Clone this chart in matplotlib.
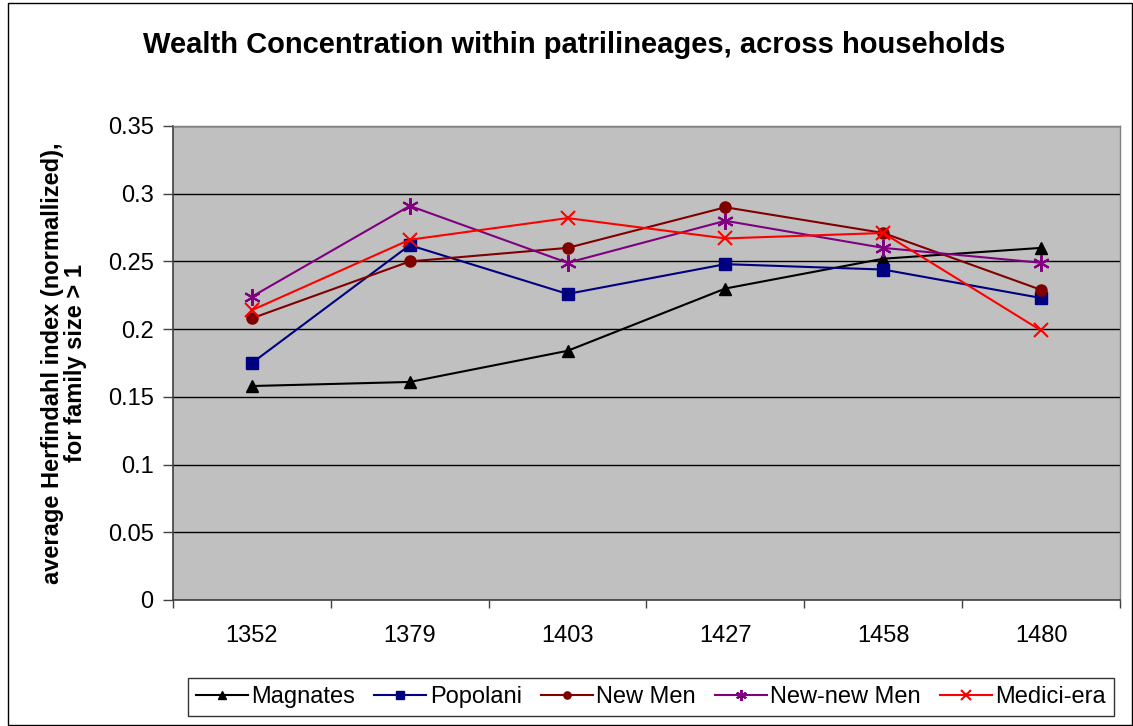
import matplotlib.pyplot as plt
from matplotlib.patches import Rectangle
import numpy as np

plt.rcParams['font.family'] = ['Liberation Sans', 'DejaVu Sans']

years = ['1352', '1379', '1403', '1427', '1458', '1480']

magnates = [0.158, 0.161, 0.184, 0.230, 0.252, 0.260]
popolani = [0.175, 0.262, 0.226, 0.248, 0.244, 0.223]
new_men = [0.208, 0.250, 0.260, 0.290, 0.271, 0.229]
new_new_men = [0.224, 0.291, 0.249, 0.280, 0.260, 0.249]
medici_era = [0.214, 0.266, 0.282, 0.267, 0.271, 0.199]

series = [
    ('Magnates', magnates, 'black', '^', 9),
    ('Popolani', popolani, '#000080', 's', 8),
    ('New Men', new_men, '#800000', 'o', 8),
    ('New-new Men', new_new_men, '#800080', (6, 2, 0), 12),
    ('Medici-era', medici_era, 'red', 'x', 10),
]

fig = plt.figure(figsize=(11.33, 7.26), dpi=100)
ax = fig.add_axes([173 / 1133, 126 / 726, 947 / 1133, 474 / 726])
ax.set_facecolor('#c0c0c0')

x = np.arange(len(years))
handles = []
for name, vals, col, mk, ms in series:
    h, = ax.plot(x, vals, color=col, lw=1.5, marker=mk, markersize=ms,
                 markeredgewidth=1.5 if mk in ('x', (6, 2, 0)) else 1,
                 markerfacecolor=col, markeredgecolor=col, label=name)
    handles.append(h)

ax.set_xlim(-0.5, len(years) - 0.5)
ax.set_ylim(0, 0.35)
ax.set_yticks(np.arange(0, 0.351, 0.05))
ax.set_yticklabels(['0', '0.05', '0.1', '0.15', '0.2', '0.25', '0.3', '0.35'])
ax.yaxis.grid(True, color='black', lw=1)
ax.set_axisbelow(True)

# category labels centred, tick marks between categories
ax.set_xticks(x)
ax.set_xticklabels(years)
ax.set_xticks(np.arange(-0.5, len(years)), minor=True)
ax.tick_params(axis='x', which='major', length=0, pad=18, labelsize=17)
ax.tick_params(axis='x', which='minor', length=6, width=1, color='#404040')
ax.tick_params(axis='y', length=7, width=1, color='#404040', labelsize=17, pad=7)

for side in ['left', 'bottom']:
    ax.spines[side].set_color('#404040')
    ax.spines[side].set_linewidth(1.2)
for side in ['top', 'right']:
    ax.spines[side].set_color('#808080')
    ax.spines[side].set_linewidth(1)

ax.set_ylabel('average Herfindahl index (normallized),\nfor family size > 1',
              fontsize=17, fontweight='bold', labelpad=15, linespacing=1.0)

fig.text(574 / 1133, 1 - 45 / 726, 'Wealth Concentration within patrilineages, across households',
         ha='center', va='center', fontsize=21, fontweight='bold')

leg = fig.legend(handles=handles, loc='center', ncol=5,
                 bbox_to_anchor=(651 / 1133, 1 - 697 / 726),
                 fontsize=17, frameon=True, fancybox=False, edgecolor='black',
                 handlelength=2.2, handletextpad=0.15, columnspacing=0.8,
                 borderpad=0.35, markerscale=0.65)
leg.get_frame().set_linewidth(1)

# outer chart border
fig.patches.append(Rectangle((8 / 1133, 0.002), 1 - 9 / 1133, 0.994,
                             transform=fig.transFigure, fill=False,
                             edgecolor='black', lw=1))

fig.savefig('out.png', dpi=100)
